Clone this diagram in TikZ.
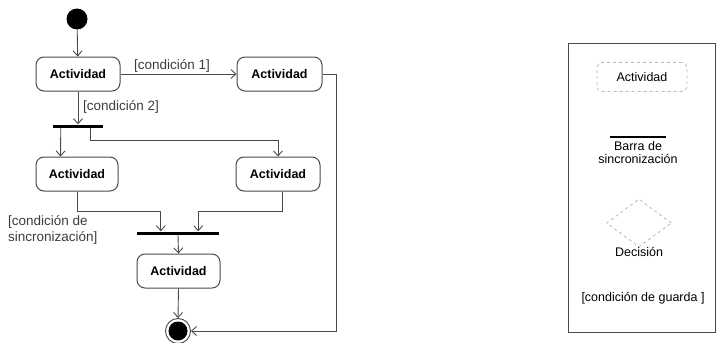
\documentclass[tikz,border=0pt]{standalone}
\usepackage{fontspec}
\setmainfont{Liberation Sans}
\usetikzlibrary{arrows.meta,calc,shapes.geometric}
\definecolor{ln}{HTML}{4A4A4A}
\definecolor{txt}{HTML}{3C3C3C}
\definecolor{lg}{HTML}{B8B8B8}
\tikzset{
  act/.style={draw=ln, line width=1pt, rounded corners=8pt, minimum height=34pt, font=\fontsize{12.5}{14}\selectfont\bfseries, text=black, inner sep=0pt},
  barnode/.style={fill=black, minimum height=3pt, inner sep=0pt},
  arr/.style={draw=ln, line width=0.9pt, -{Straight Barb[length=5pt,width=9pt]}},
  lbl/.style={font=\fontsize{13.5}{16}\selectfont, text=txt, inner sep=0pt},
  legact/.style={draw=lg, dashed, line width=0.8pt, rounded corners=5pt, minimum width=90pt, minimum height=29pt, font=\fontsize{12.5}{14}\selectfont, text=black, inner sep=0pt},
}
\begin{document}
\begin{tikzpicture}[x=1pt,y=-1pt]
\useasboundingbox (0,0) rectangle (716,343);
% main diagram
\node[circle, fill=black, minimum size=21pt, inner sep=0pt] (start) at (77,19) {};
\node[act, minimum width=84pt] (a1) at (78,74) {Actividad};
\node[act, minimum width=85pt] (a2) at (279.5,74) {Actividad};
\node[barnode, minimum width=50pt] (b1) at (78,126) {};
\node[act, minimum width=82pt] (a3) at (77,174) {Actividad};
\node[act, minimum width=84pt] (a4) at (278,174) {Actividad};
\node[barnode, minimum width=82pt] (b2) at (178,233) {};
\node[act, minimum width=83pt] (a5) at (178.5,271) {Actividad};
\node[circle, draw=ln, line width=0.9pt, minimum size=25pt, inner sep=0pt] (final) at (178,331) {};
\node[circle, fill=black, minimum size=19pt, inner sep=0pt] (finalin) at (final.center) {};

\draw[arr] (start) -- (a1);
\draw[arr] (a1.east) -- (a2.west);
\node[lbl, anchor=west] (c1) at (134,66) {[condición 1]};
\draw[arr] (a1.south) -- (a1.south |- b1.north);
\node[lbl, anchor=west] (c2) at (83,107) {[condición 2]};
\draw[arr] ($(b1.south west)+(8,0)$) -- ($(a3.north west)+(25,0)$);
\draw[arr] ($(b1.south east)+(-13,0)$) -- ++(0,13) -| (a4.north);
\draw[arr] (a3.south) -- ++(0,20) -| ($(b2.north west)+(24,0)$);
\draw[arr] ($(a4.south)+(4,0)$) -- ++(0,20) -| ($(b2.north east)+(-21,0)$);
\draw[arr] (b2.south) -- (a5.north);
\draw[arr] (a5.south) -- (final.north);
\draw[arr] (a2.east) -- ++(14,0) |- (final.east);
\node[lbl, anchor=north west, align=left] (c3) at (8,215) {[condición de\\sincronización]};

% legend
\node[draw=ln, line width=0.9pt, minimum width=147pt, minimum height=289pt, inner sep=0pt, anchor=north west] (leg) at (568,43) {};
\node[legact] (la) at (642,77) {Actividad};
\node[barnode, minimum width=56pt, minimum height=2.2pt] (lb) at (638,137) {};
\node[lbl, text=black, align=center, anchor=north, font=\fontsize{12.5}{13}\selectfont] (lbt) at (638,141) {Barra de\\sincronización};
\node[diamond, draw=lg, dashed, line width=0.8pt, minimum width=65pt, minimum height=48pt, inner sep=0pt] (ld) at (639,223) {};
\node[lbl, text=black, font=\fontsize{12.5}{14}\selectfont] (ldt) at (639,252) {Decisión};
\node[lbl, text=black, font=\fontsize{12.5}{14}\selectfont] (lg) at (643,298) {[condición de guarda ]};
\end{tikzpicture}
\end{document}
